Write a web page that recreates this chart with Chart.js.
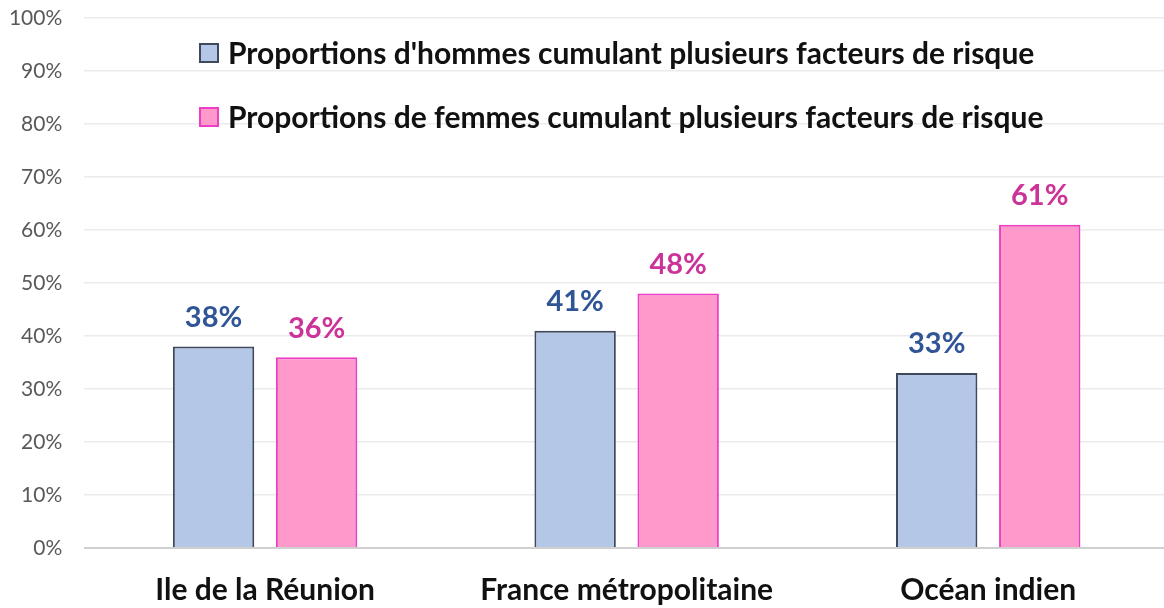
<!DOCTYPE html>
<html>
<head>
<meta charset="utf-8">
<script src="https://cdn.jsdelivr.net/npm/chart.js@4/dist/chart.umd.min.js"></script>
<style>
  html, body { margin: 0; padding: 0; background: #fff; overflow: hidden; }
  #wrap { position: relative; width: 1169px; height: 608px; }
</style>
</head>
<body>
<div id="wrap"><canvas id="c"></canvas></div>
<script>
const categories = ["Ile de la Réunion", "France métropolitaine", "Océan indien"];
const seriesNames = [
  "Proportions d'hommes cumulant plusieurs facteurs de risque",
  "Proportions de femmes cumulant plusieurs facteurs de risque"
];
const hommes = [38, 41, 33];
const femmes = [36, 48, 61];
const yTicks = [0, 10, 20, 30, 40, 50, 60, 70, 80, 90, 100];

const FONT = "Lato";
const labelColors = ["#2F5597", "#CC3399"];

const legendPlugin = {
  id: 'customLegend',
  afterDatasetsDraw(chart) {
    const ctx = chart.ctx;
    ctx.save();
    ctx.font = "bold 30px " + FONT;
    ctx.textBaseline = 'middle';
    ctx.textAlign = 'left';
    chart.data.datasets.forEach((ds, i) => {
      const cy = 53 + i * 64;
      const bx = 200, bs = 18;
      ctx.fillStyle = ds.backgroundColor;
      ctx.fillRect(bx, cy - bs / 2, bs, bs);
      ctx.lineWidth = 2;
      ctx.strokeStyle = ds.borderColor;
      ctx.strokeRect(bx, cy - bs / 2, bs, bs);
      ctx.fillStyle = "#111111";
      ctx.fillText(ds.label, 228, cy + 1);
    });
    ctx.restore();
  }
};

const valueLabels = {
  id: 'valueLabels',
  afterDatasetsDraw(chart) {
    const ctx = chart.ctx;
    ctx.save();
    ctx.font = "bold 29px " + FONT;
    ctx.textAlign = 'center';
    ctx.textBaseline = 'middle';
    chart.data.datasets.forEach((ds, i) => {
      const meta = chart.getDatasetMeta(i);
      ctx.fillStyle = labelColors[i];
      meta.data.forEach((bar, j) => {
        ctx.fillText(ds.data[j] + "%", bar.x, bar.y - 29);
      });
    });
    ctx.restore();
  }
};

new Chart(document.getElementById('c'), {
  type: 'bar',
  data: {
    labels: categories,
    datasets: [
      { label: seriesNames[0], data: hommes, backgroundColor: "#B4C7E7", borderColor: "#3E4A5C", borderWidth: 2 },
      { label: seriesNames[1], data: femmes, backgroundColor: "#FF99CC", borderColor: "#EE3FC4", borderWidth: 2 }
    ]
  },
  options: {
    responsive: true,
    maintainAspectRatio: false,
    animation: false,
    categoryPercentage: 0.57,
    barPercentage: 0.79,
    layout: { autoPadding: false, padding: { top: 18, right: 0, left: 0, bottom: 0 } },
    plugins: { legend: { display: false }, tooltip: { enabled: false } },
    scales: {
      x: {
        grid: { display: false },
        border: { display: false },
        ticks: { color: "#111111", font: { family: FONT, size: 30, weight: 'bold' }, padding: 16 },
        afterFit(s) { s.height = 60; s.paddingTop = 0; s.paddingBottom = 0; }
      },
      y: {
        min: 0, max: 100,
        afterBuildTicks(s) { s.ticks = yTicks.map(v => ({ value: v })); },
        grid: {
          drawTicks: false,
          color: ctx => ctx.tick && ctx.tick.value === 0 ? "#D0D0D0" : "#EBEBEB",
          lineWidth: ctx => ctx.tick && ctx.tick.value === 0 ? 2 : 1.5
        },
        border: { display: false },
        ticks: {
          color: "#595959",
          font: { family: FONT, size: 21 },
          padding: 22,
          callback: v => v + "%"
        },
        afterFit(s) { s.width = 84.3; s.paddingTop = 0; s.paddingBottom = 0; }
      }
    }
  },
  plugins: [legendPlugin, valueLabels]
});
</script>
</body>
</html>
